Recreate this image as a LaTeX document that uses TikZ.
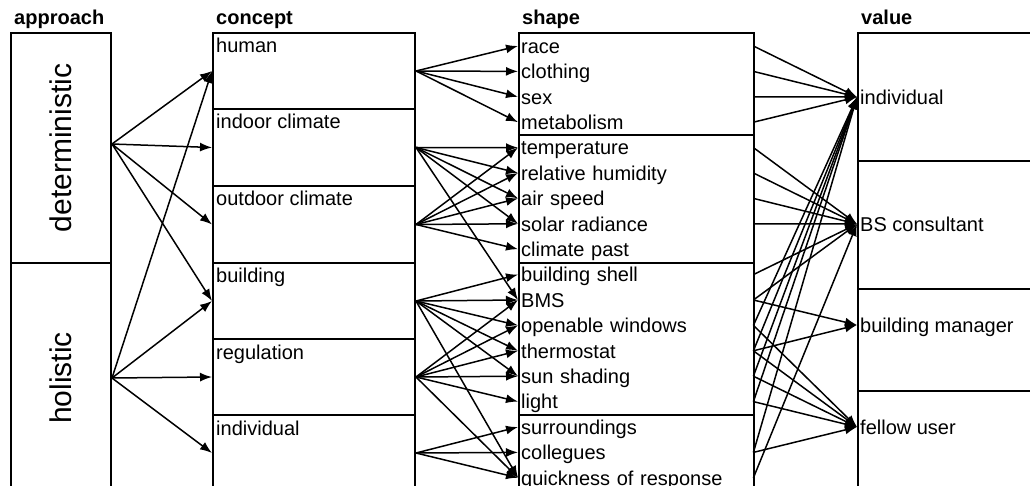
\documentclass[tikz,border=0pt]{standalone}
\usepackage{fontspec}
\setmainfont{Liberation Sans}
\usetikzlibrary{arrows.meta}
\begin{document}
\begin{tikzpicture}[x=1pt,y=-1pt,
  box/.style={draw,line width=2pt,inner sep=0pt,anchor=north west},
  head/.style={anchor=base west,inner sep=0pt,font=\fontsize{20}{22}\selectfont\bfseries},
  big/.style={rotate=90,inner sep=0pt,font=\fontsize{30}{32}\selectfont},
  clabel/.style={anchor=base west,inner sep=0pt,font=\fontsize{20}{22}\selectfont},
  row/.style={anchor=west,inner xsep=3pt,inner ysep=0pt,text width=229pt,align=left,
    text height=19pt,text depth=4.4pt,font=\fontsize{20}{22}\selectfont},
  vrow/.style={anchor=west,inner xsep=3pt,inner ysep=0pt,
    text height=19pt,text depth=4.4pt,font=\fontsize{20}{22}\selectfont},
  arr/.style={line width=1.5pt,-{Latex[length=12pt,width=9pt]}}]
\clip (0,0) rectangle (1030,486);
\useasboundingbox (0,0) rectangle (1030,486);
% approach
\node[box,minimum width=100pt,minimum height=230pt] (a1) at (10,32) {};
\node[box,minimum width=100pt,minimum height=230pt] (a2) at (10,262) {};
\node[big] (a1t) at (a1.center) {deterministic};
\node[big] (a2t) at (a2.center) {holistic};
\node[head] (h1) at ([shift={(4,-7)}]a1.north west) {approach};
\coordinate (a1o) at ([yshift=4pt]a1.east);
% concept
\node[box,minimum width=202pt,minimum height=76pt] (c1) at (212,32) {};
\node[box,minimum width=202pt,minimum height=77pt] (c2) at (212,108) {};
\node[box,minimum width=202pt,minimum height=77pt] (c3) at (212,185) {};
\node[box,minimum width=202pt,minimum height=76pt] (c4) at (212,262) {};
\node[box,minimum width=202pt,minimum height=76pt] (c5) at (212,338) {};
\node[box,minimum width=202pt,minimum height=76pt] (c6) at (212,414) {};
\node[clabel] (c1t) at ([shift={(4,21)}]c1.north west) {human};
\node[clabel] (c2t) at ([shift={(4,21)}]c2.north west) {indoor climate};
\node[clabel] (c3t) at ([shift={(4,21)}]c3.north west) {outdoor climate};
\node[clabel] (c4t) at ([shift={(4,21)}]c4.north west) {building};
\node[clabel] (c5t) at ([shift={(4,21)}]c5.north west) {regulation};
\node[clabel] (c6t) at ([shift={(4,21)}]c6.north west) {individual};
\node[head] (h2) at ([shift={(4,-7)}]c1.north west) {concept};
% shape
\node[box,minimum width=235pt,minimum height=102pt] (g1) at (518,32) {};
\node[box,minimum width=235pt,minimum height=128pt] (g2) at (518,134) {};
\node[box,minimum width=235pt,minimum height=152pt] (g3) at (518,262) {};
\node[box,minimum width=235pt,minimum height=80pt] (g4) at (518,414) {};
\node[head] (h3) at ([shift={(4,-7)}]g1.north west) {shape};
\foreach \i/\t in {1/race,2/clothing,3/sex,4/metabolism,5/temperature,6/relative humidity,
  7/air speed,8/solar radiance,9/climate past,10/building shell,11/BMS,12/openable windows,
  13/thermostat,14/sun shading,15/light,16/surroundings,17/collegues,18/quickness of response}
  \node[row] (s\i) at (518,{46+25.4*(\i-1)}) {\t};
% value
\node[box,minimum width=200pt,minimum height=128pt] (b1) at (857,32) {};
\node[box,minimum width=200pt,minimum height=128pt] (b2) at (857,160) {};
\node[box,minimum width=200pt,minimum height=102pt] (b3) at (857,288) {};
\node[box,minimum width=200pt,minimum height=102pt] (b4) at (857,390) {};
\node[head] (h4) at ([shift={(4,-7)}]b1.north west) {value};
\node[vrow] (v1) at (857,97) {individual};
\node[vrow] (v2) at (857,224) {BS consultant};
\node[vrow] (v3) at (857,325) {building manager};
\node[vrow] (v4) at (857,427) {fellow user};
% approach -> concept
\foreach \c in {c1,c2,c3,c4} \draw[arr] (a1o) -- (\c.west);
\foreach \c in {c1,c4,c5,c6} \draw[arr] (a2.east) -- (\c.west);
% concept -> shape
\foreach \s in {1,2,3,4} \draw[arr] (c1.east) -- (s\s.west);
\foreach \s in {5,6,7,8,11} \draw[arr] (c2.east) -- (s\s.west);
\foreach \s in {5,6,7,8,9} \draw[arr] (c3.east) -- (s\s.west);
\foreach \s in {10,11,12,13,14,18} \draw[arr] (c4.east) -- (s\s.west);
\foreach \s in {11,12,13,14,15,18} \draw[arr] (c5.east) -- (s\s.west);
\foreach \s in {16,17,18} \draw[arr] (c6.east) -- (s\s.west);
% shape -> value
\foreach \s in {1,2,3,4,12,13,14,15,17} \draw[arr] (s\s.east) -- (v1.west);
\foreach \s in {5,6,7,8,10,11,18} \draw[arr] (s\s.east) -- (v2.west);
\foreach \s in {11,13} \draw[arr] (s\s.east) -- (v3.west);
\foreach \s in {12,13,14,15,17} \draw[arr] (s\s.east) -- (v4.west);
\end{tikzpicture}
\end{document}
